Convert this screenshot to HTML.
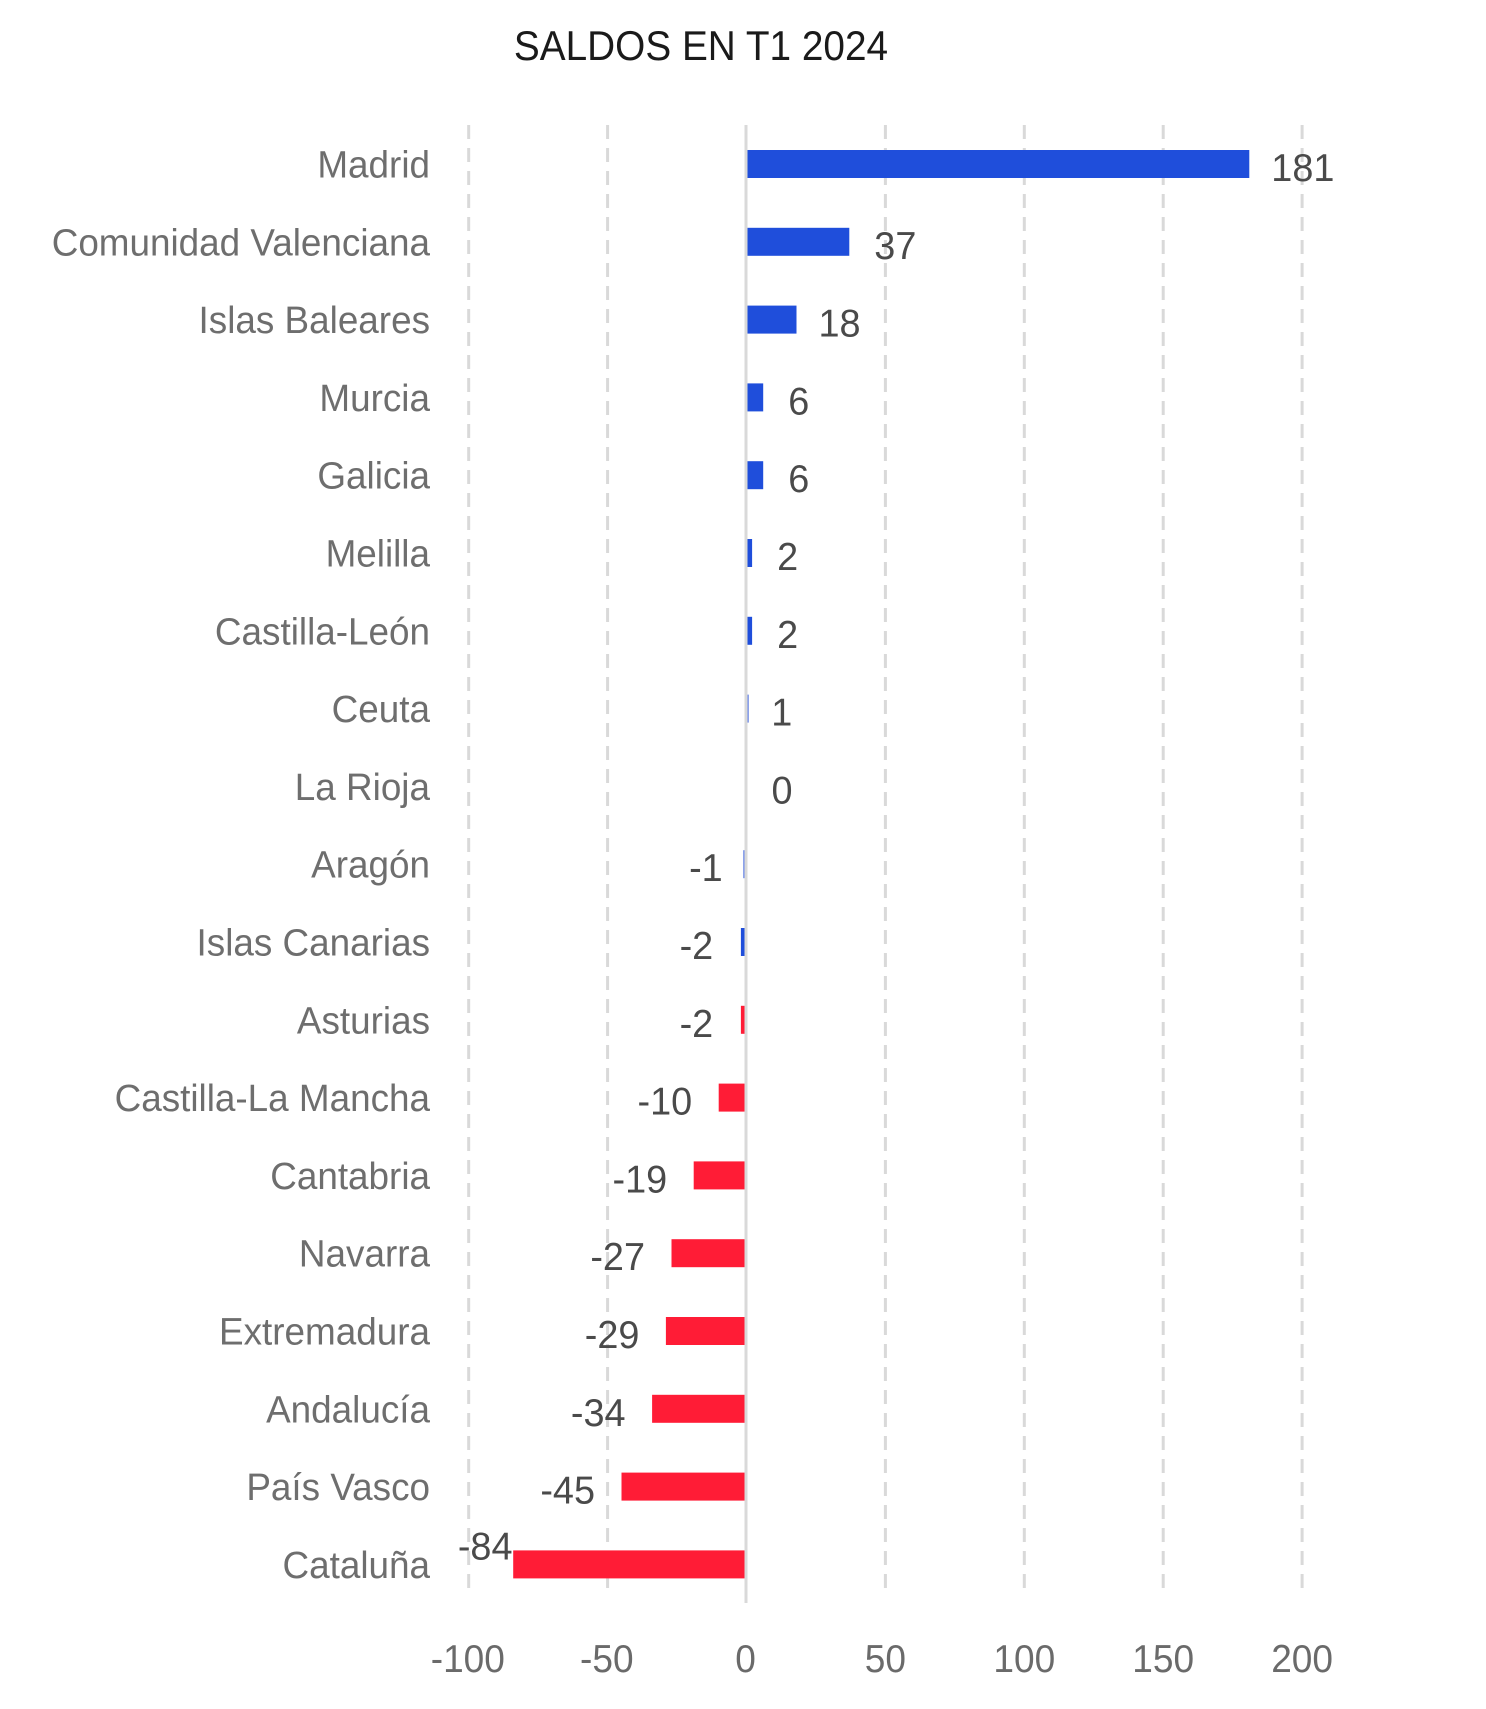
<!DOCTYPE html>
<html>
<head>
<meta charset="utf-8">
<style>
  html, body { margin: 0; padding: 0; background: #ffffff; }
  svg { display: block; }
  text { font-family: "Liberation Sans", "DejaVu Sans", sans-serif; }
</style>
</head>
<body>
<svg width="1486" height="1709" viewBox="0 0 1486 1709" xmlns="http://www.w3.org/2000/svg">
  <rect x="0" y="0" width="1486" height="1709" fill="#ffffff"/>

  <!-- Title -->
  <text transform="translate(701,60) scale(0.923,1)" text-anchor="middle" font-size="42" fill="#1a1a1a">SALDOS EN T1 2024</text>

  <!-- Dashed gridlines -->
  <g stroke="#d9d9d9" stroke-width="3" stroke-dasharray="14 9">
    <line x1="468.7" y1="125" x2="468.7" y2="1596"/>
    <line x1="607.6" y1="125" x2="607.6" y2="1596"/>
    <line x1="885.4" y1="125" x2="885.4" y2="1596"/>
    <line x1="1024.3" y1="125" x2="1024.3" y2="1596"/>
    <line x1="1163.2" y1="125" x2="1163.2" y2="1596"/>
    <line x1="1302.1" y1="125" x2="1302.1" y2="1596"/>
  </g>

  <!-- Bars -->
  <g>
    <rect x="746.5" y="150" width="502.8" height="28" fill="#1f4edb"/>
    <rect x="746.5" y="227.8" width="102.8" height="28" fill="#1f4edb"/>
    <rect x="746.5" y="305.6" width="50" height="28" fill="#1f4edb"/>
    <rect x="746.5" y="383.4" width="16.7" height="28" fill="#1f4edb"/>
    <rect x="746.5" y="461.2" width="16.7" height="28" fill="#1f4edb"/>
    <rect x="746.5" y="539" width="5.6" height="28" fill="#1f4edb"/>
    <rect x="746.5" y="616.8" width="5.6" height="28" fill="#1f4edb"/>
    <rect x="746.5" y="694.6" width="2.3" height="28" fill="#6f8be6"/>
    <rect x="743.2" y="850.2" width="3.3" height="28" fill="#6f8be6"/>
    <rect x="740.9" y="928" width="5.6" height="28" fill="#1f4edb"/>
    <rect x="740.9" y="1005.8" width="5.6" height="28" fill="#ff1c36"/>
    <rect x="718.7" y="1083.6" width="27.8" height="28" fill="#ff1c36"/>
    <rect x="693.7" y="1161.4" width="52.8" height="28" fill="#ff1c36"/>
    <rect x="671.5" y="1239.2" width="75" height="28" fill="#ff1c36"/>
    <rect x="665.9" y="1317" width="80.6" height="28" fill="#ff1c36"/>
    <rect x="652.1" y="1394.8" width="94.4" height="28" fill="#ff1c36"/>
    <rect x="621.5" y="1472.6" width="125" height="28" fill="#ff1c36"/>
    <rect x="513.2" y="1550.4" width="233.3" height="28" fill="#ff1c36"/>
  </g>

  <!-- Zero line -->
  <line x1="746" y1="125" x2="746" y2="1603" stroke="#d9d9d9" stroke-width="3"/>

  <!-- Category labels -->
  <g font-size="38" fill="#6e6e6e" text-anchor="end">
    <text transform="translate(430,177.5) scale(0.97,1)">Madrid</text>
    <text transform="translate(430,255.3) scale(0.97,1)">Comunidad Valenciana</text>
    <text transform="translate(430,333.1) scale(0.97,1)">Islas Baleares</text>
    <text transform="translate(430,410.9) scale(0.97,1)">Murcia</text>
    <text transform="translate(430,488.7) scale(0.97,1)">Galicia</text>
    <text transform="translate(430,566.5) scale(0.97,1)">Melilla</text>
    <text transform="translate(430,644.3) scale(0.97,1)">Castilla-León</text>
    <text transform="translate(430,722.1) scale(0.97,1)">Ceuta</text>
    <text transform="translate(430,799.9) scale(0.97,1)">La Rioja</text>
    <text transform="translate(430,877.7) scale(0.97,1)">Aragón</text>
    <text transform="translate(430,955.5) scale(0.97,1)">Islas Canarias</text>
    <text transform="translate(430,1033.3) scale(0.97,1)">Asturias</text>
    <text transform="translate(430,1111.1) scale(0.97,1)">Castilla-La Mancha</text>
    <text transform="translate(430,1188.9) scale(0.97,1)">Cantabria</text>
    <text transform="translate(430,1266.7) scale(0.97,1)">Navarra</text>
    <text transform="translate(430,1344.5) scale(0.97,1)">Extremadura</text>
    <text transform="translate(430,1422.3) scale(0.97,1)">Andalucía</text>
    <text transform="translate(430,1500.1) scale(0.97,1)">País Vasco</text>
    <text transform="translate(430,1577.9) scale(0.97,1)">Cataluña</text>
  </g>

  <!-- Value labels (positive) -->
  <g font-size="39" fill="#4a4a4a" text-anchor="start">
    <text transform="translate(1271.3,181) scale(0.97,1)">181</text>
    <text transform="translate(874.3,258.8) scale(0.97,1)">37</text>
    <text transform="translate(818.5,336.6) scale(0.97,1)">18</text>
    <text transform="translate(788.2,414.4) scale(0.97,1)">6</text>
    <text transform="translate(788.2,492.2) scale(0.97,1)">6</text>
    <text transform="translate(777.1,570) scale(0.97,1)">2</text>
    <text transform="translate(777.1,647.8) scale(0.97,1)">2</text>
    <text transform="translate(771.3,725.6) scale(0.97,1)">1</text>
    <text transform="translate(771.5,803.4) scale(0.97,1)">0</text>
  </g>

  <!-- Value labels (negative) -->
  <g font-size="39" fill="#4a4a4a" text-anchor="end">
    <text transform="translate(722.7,881.2) scale(0.97,1)">-1</text>
    <text transform="translate(713.2,959) scale(0.97,1)">-2</text>
    <text transform="translate(713.2,1036.8) scale(0.97,1)">-2</text>
    <text transform="translate(692.2,1114.6) scale(0.97,1)">-10</text>
    <text transform="translate(667.2,1192.4) scale(0.97,1)">-19</text>
    <text transform="translate(645,1270.2) scale(0.97,1)">-27</text>
    <text transform="translate(639.4,1348) scale(0.97,1)">-29</text>
    <text transform="translate(625.6,1425.8) scale(0.97,1)">-34</text>
    <text transform="translate(595,1503.6) scale(0.97,1)">-45</text>
    <text transform="translate(512.5,1559.3) scale(0.97,1)">-84</text>
  </g>

  <!-- X axis tick labels -->
  <g font-size="39" fill="#6a6a6a" text-anchor="middle">
    <text transform="translate(467.8,1672) scale(0.95,1)">-100</text>
    <text transform="translate(606.8,1672) scale(0.95,1)">-50</text>
    <text transform="translate(745.5,1672) scale(0.95,1)">0</text>
    <text transform="translate(885.4,1672) scale(0.95,1)">50</text>
    <text transform="translate(1024.3,1672) scale(0.95,1)">100</text>
    <text transform="translate(1163.2,1672) scale(0.95,1)">150</text>
    <text transform="translate(1302.1,1672) scale(0.95,1)">200</text>
  </g>
</svg>
</body>
</html>
